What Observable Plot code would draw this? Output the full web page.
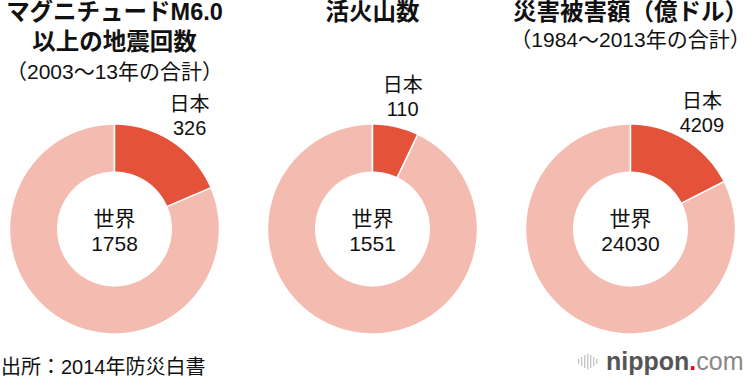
<!DOCTYPE html>
<html><head><meta charset="utf-8">
<script src="https://cdn.jsdelivr.net/npm/d3@7"></script>
<script src="https://cdn.jsdelivr.net/npm/@observablehq/plot@0.6"></script>
<style>
body{margin:0;background:#fff;}
#wrap{position:relative;width:750px;height:382px;overflow:hidden;font-family:"Liberation Sans","Noto Sans CJK JP",sans-serif;background:#fff;}
#chart svg{display:block}
#source{position:absolute;left:1px;top:357px;font-size:20px;line-height:20px;color:#111;white-space:nowrap}
#logoicon{position:absolute;left:577px;top:353px;}
#logotext{position:absolute;left:606px;top:349px;font-size:25px;line-height:25px;white-space:nowrap;font-family:"Liberation Sans",sans-serif}
#logotext .a{color:#555;font-weight:bold}
#logotext .d{color:#e60012;font-weight:bold}
#logotext .c{color:#888}
</style>
</head><body>
<div id="wrap">
<div id="chart"></div>
<div id="source">出所：2014年防災白書</div>
<svg id="logoicon" width="21" height="17" viewBox="0 0 21 17"></svg>
<div id="logotext"><span class="a">nippon</span><span class="d">.</span><span class="c">com</span></div>
</div>
<script>
// ---- data ----
const charts = ["地震回数", "活火山数", "災害被害額"];
const titleLines = [["マグニチュードM6.0", "以上の地震回数"], ["活火山数"], ["災害被害額（億ドル）"]];
const subtitles = ["（2003〜13年の合計）", "", "（1984〜2013年の合計）"];
const japanValues = [326, 110, 4209];
const worldValues = [1758, 1551, 24030];
const japanLabel = "日本";
const worldLabel = "世界";

// ---- style / layout ----
const COLOR_JAPAN = "#e5523a";
const COLOR_REST = "#f4bbb0";
const W = 750, H = 345, R = 105, CY = 228.5, CX0 = 114, GAP = 258, INNER = 0.54;
const FONT = '"Liberation Sans","Noto Sans CJK JP",sans-serif';
const cx = i => i * GAP / R;
const yOf = py => (CY - py) / R;

// slice polygons (Japan slice clockwise from 12 o'clock; rest of world after it)
const slices = [];
charts.forEach((c, i) => {
  const f = japanValues[i] / worldValues[i];
  const parts = [
    {key: "japan", a0: 0, a1: 2 * Math.PI * f},
    {key: "rest", a0: 2 * Math.PI * f, a1: 2 * Math.PI}
  ];
  for (const p of parts) {
    const id = c + "-" + p.key;
    const n = Math.max(8, Math.ceil((p.a1 - p.a0) / (Math.PI / 360)));
    for (let k = 0; k <= n; k++) {
      const a = p.a0 + (p.a1 - p.a0) * k / n;
      slices.push({id, key: p.key, x: cx(i) + Math.sin(a), y: Math.cos(a)});
    }
    for (let k = n; k >= 0; k--) {
      const a = p.a0 + (p.a1 - p.a0) * k / n;
      slices.push({id, key: p.key, x: cx(i) + INNER * Math.sin(a), y: INNER * Math.cos(a)});
    }
  }
});

const centerLabels = charts.map((c, i) => ({x: cx(i), y: -0.015, text: worldLabel + "\n" + worldValues[i]}));
const japanLabels = charts.map((c, i) => {
  const mid = Math.PI * japanValues[i] / worldValues[i];
  return {x: cx(i) + 1.3 * Math.sin(mid), y: 1.3 * Math.cos(mid), text: japanLabel + "\n" + japanValues[i]};
});
const titleRows = [];
const subRows = [];
charts.forEach((c, i) => {
  titleLines[i].forEach((t, k) => titleRows.push({x: cx(i), y: yOf(12 + 30 * k), text: t}));
  if (subtitles[i]) subRows.push({x: cx(i), y: yOf(8 + 32 * titleLines[i].length), text: subtitles[i]});
});

const plot = Plot.plot({
  width: W, height: H, margin: 0,
  x: {domain: [-CX0 / R, (W - CX0) / R], axis: null},
  y: {domain: [-(H - CY) / R, CY / R], axis: null},
  style: {fontFamily: FONT, background: "white", color: "#111"},
  marks: [
    Plot.line(slices.filter(d => d.key === "rest"), {x: "x", y: "y", z: "id", fill: COLOR_REST, stroke: "white", strokeWidth: 1.5, curve: "linear-closed"}),
    Plot.line(slices.filter(d => d.key === "japan"), {x: "x", y: "y", z: "id", fill: COLOR_JAPAN, stroke: "white", strokeWidth: 1.5, curve: "linear-closed"}),
    Plot.text(centerLabels, {x: "x", y: "y", text: "text", fontSize: 21, lineHeight: 1.2, fill: "#111"}),
    Plot.text(japanLabels, {x: "x", y: "y", text: "text", fontSize: 20, lineHeight: 1.2, fill: "#111"}),
    Plot.text(titleRows, {x: "x", y: "y", text: "text", fontSize: 23.5, fontWeight: "bold", fill: "#111"}),
    Plot.text(subRows, {x: "x", y: "y", text: "text", fontSize: 21, fill: "#111"})
  ]
});
document.getElementById("chart").appendChild(plot);

// logo icon bars
const bars = [5, 9, 13, 16, 13, 9, 5];
const icon = d3.select("#logoicon");
bars.forEach((h, k) => icon.append("rect").attr("x", 1 + k * 3).attr("y", (17 - h) / 2).attr("width", 1.4).attr("height", h).attr("fill", "#c8c8c8"));
</script>
</body></html>
